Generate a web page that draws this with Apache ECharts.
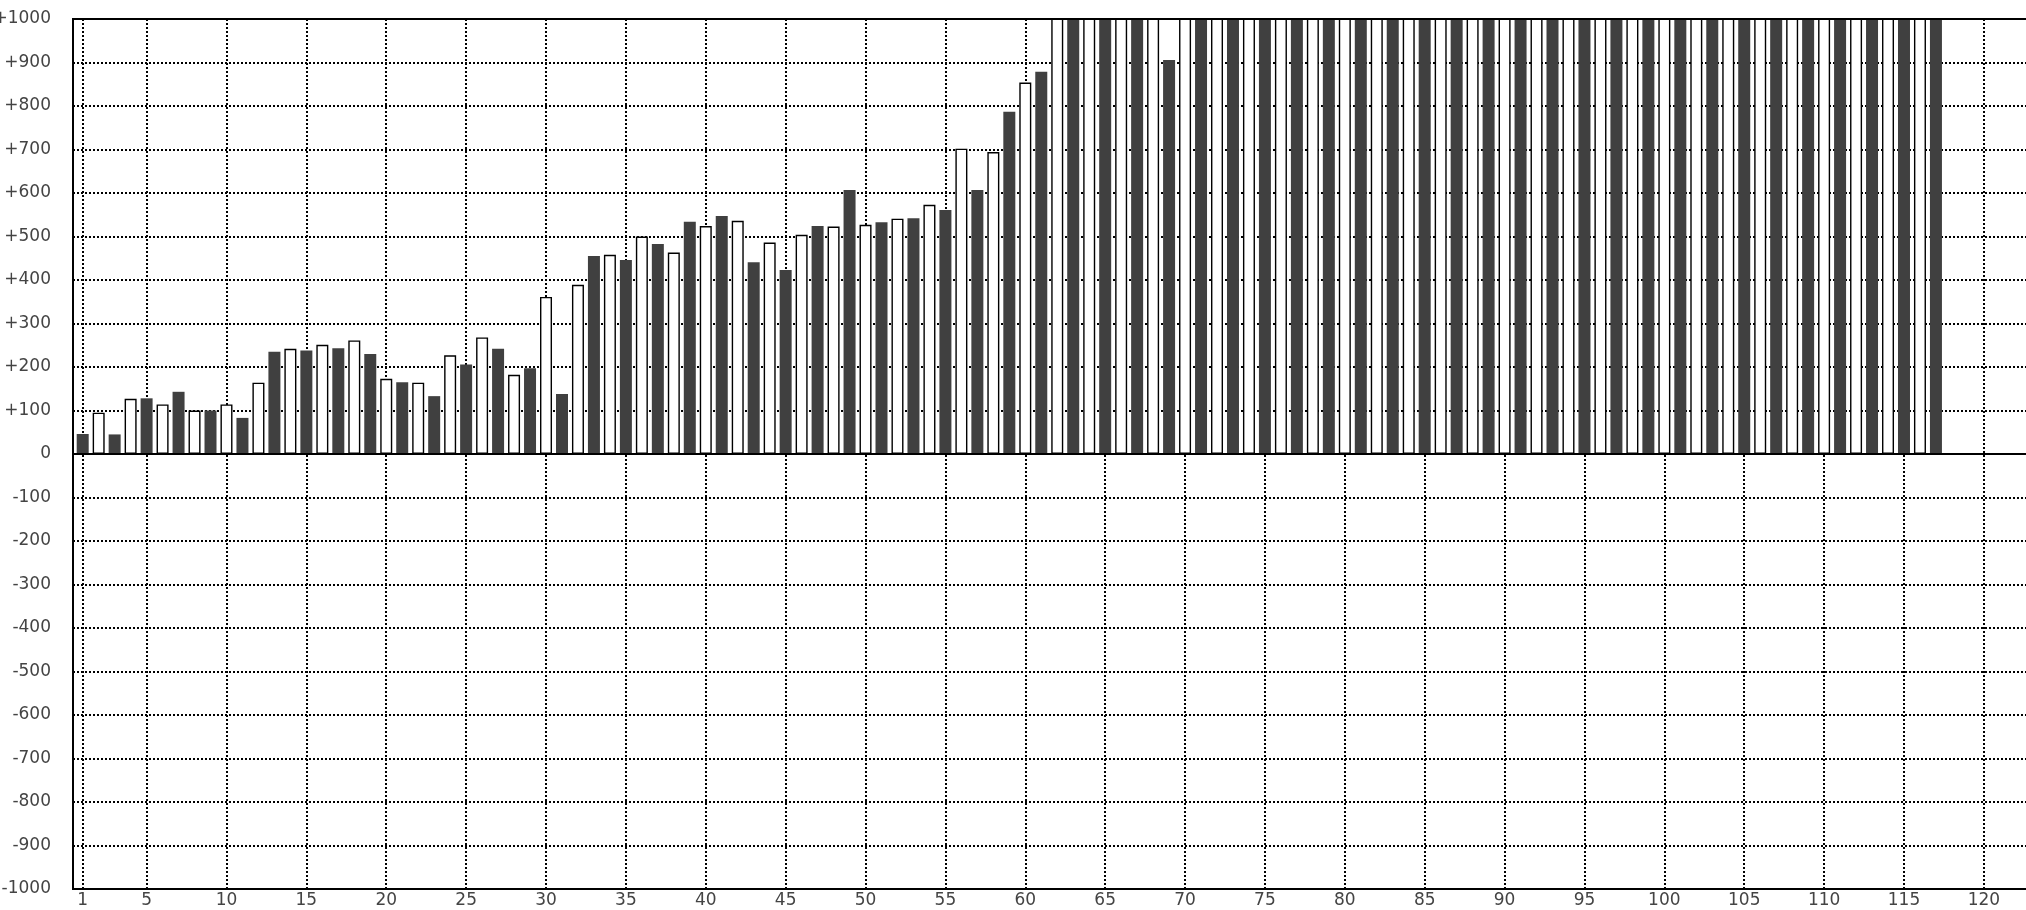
<!DOCTYPE html>
<html>
<head>
<meta charset="utf-8">
<script src="https://cdn.jsdelivr.net/npm/echarts@6/dist/echarts.min.js"></script>
<style>
html,body{margin:0;padding:0;background:#fff;}
#chart{width:2026px;height:910px;}
</style>
</head>
<body>
<div id="chart"></div>
<script>
// Bar positions (x values) and their heights. Bars above +1000 are clipped by the plot frame.
const barX = [
  1,2,3,4,5,6,7,8,9,10,11,12,13,14,15,16,17,18,19,20,
  21,22,23,24,25,26,27,28,29,30,31,32,33,34,35,36,37,38,39,40,
  41,42,43,44,45,46,47,48,49,50,51,52,53,54,55,56,57,58,59,60,
  61,62,63,64,65,66,67,68,69,70,71,72,73,74,75,76,77,78,79,80,
  81,82,83,84,85,86,87,88,89,90,91,92,93,94,95,96,97,98,99,100,
  101,102,103,104,105,106,107,108,109,110,111,112,113,114,115,116,117
];
const barValue = [
  46,95,45,127,128,114,143,100,100,114,83,164,235,242,238,251,243,261,230,173,
  165,164,133,227,206,268,242,182,197,361,138,389,455,458,446,500,483,463,534,524,
  547,536,441,486,423,504,524,523,607,527,533,541,542,573,561,702,607,694,787,854,
  879,1040,1060,1070,1080,1090,1100,1110,906,1120,1130,1140,1150,1160,1170,1180,1190,1200,1210,1220,
  1230,1240,1250,1260,1270,1280,1290,1300,1310,1320,1330,1340,1350,1360,1370,1380,1390,1400,1410,1420,
  1430,1440,1450,1460,1470,1480,1490,1500,1510,1520,1530,1540,1550,1560,1570,1580,1590
];
const xTickValues = [1,5,10,15,20,25,30,35,40,45,50,55,60,65,70,75,80,85,90,95,100,105,110,115,120];
const yMin = -1000, yMax = 1000, yStep = 100;

const FONT = 'DejaVu Sans';
const chart = echarts.init(document.getElementById('chart'), null, {renderer: 'canvas'});

const data = barX.map((x, i) => ({
  value: [x, barValue[i]],
  itemStyle: (x % 2 === 1)
    ? {color: '#404040', borderWidth: 0}
    : {color: '#ffffff', borderColor: '#000000', borderWidth: 1.4}
}));

const gridLine = {show: true, lineStyle: {color: '#000', width: 2, type: [2, 2]}};

chart.setOption({
  animation: false,
  backgroundColor: '#fff',
  grid: {left: 73, top: 19, bottom: 21, right: -5, containLabel: false, outerBoundsMode: 'none',
         show: true, borderColor: '#000', borderWidth: 2, backgroundColor: 'transparent'},
  xAxis: {
    type: 'value',
    min: 0.393,
    max: 122.95,
    axisLine: {show: true, onZero: false, lineStyle: {color: '#000', width: 2}},
    axisTick: {show: false, customValues: xTickValues},
    axisLabel: {customValues: xTickValues, fontFamily: FONT, fontSize: 17, color: '#444', margin: 3,
                showMinLabel: true, showMaxLabel: true},
    splitLine: gridLine
  },
  yAxis: {
    type: 'value',
    min: yMin,
    max: yMax,
    interval: yStep,
    axisLine: {show: true, lineStyle: {color: '#000', width: 2}},
    axisTick: {show: false},
    axisLabel: {fontFamily: FONT, fontSize: 17, color: '#444', margin: 22,
                formatter: v => v > 0 ? '+' + v : String(v)},
    splitLine: gridLine
  },
  series: [{
    type: 'bar',
    data: data,
    barWidth: 12,
    clip: true,
    silent: true,
    markLine: {
      silent: true,
      symbol: ['none', 'none'],
      label: {show: false},
      lineStyle: {color: '#000', width: 2, type: 'solid'},
      data: [{yAxis: 0}, {yAxis: yMax}]
    }
  }]
});
</script>
</body>
</html>
